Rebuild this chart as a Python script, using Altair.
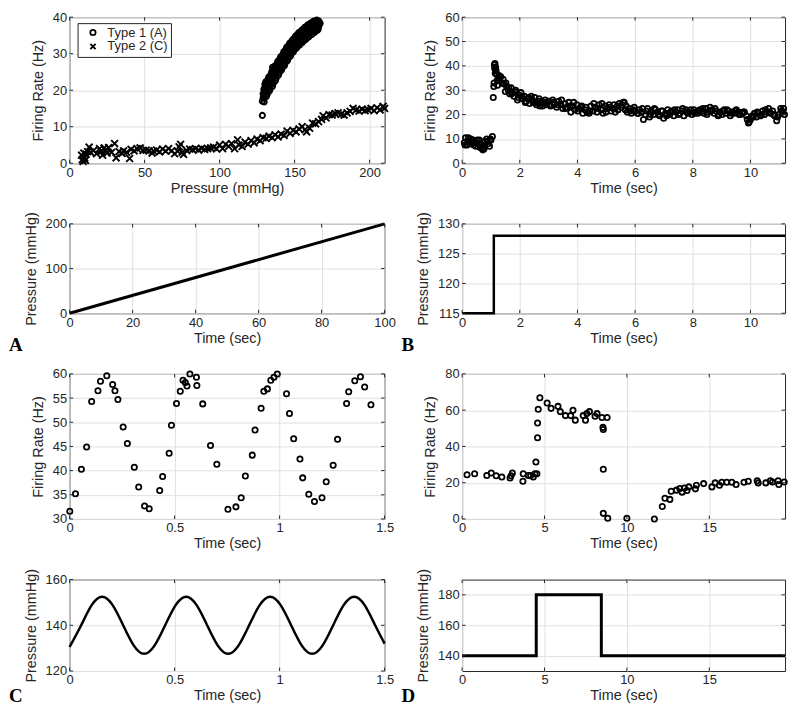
import altair as alt
import pandas as pd

FONT = "Liberation Sans"
TXT = "#262626"
GRID = "#e0e0e0"

# ---------------- Panel A (top): firing rate vs pressure ----------------
type1_pressure = [128.5, 129, 129, 129.5, 129.5, 130, 130, 130.5, 131, 131, 131.5, 132, 132, 132.5,
                  133, 133, 133.5, 134, 134, 134.5, 135, 135, 135.5, 136, 136, 136.5, 137, 137,
                  137.5, 138, 138, 138.5, 139, 139, 139.5, 140, 140, 140.5, 140.5, 141, 141, 141,
                  141.5, 141.5, 142, 142, 142.5, 143, 143, 143.5, 144, 144, 144.5, 145, 145, 145.5,
                  146, 146, 146.5, 147, 147, 147.5, 148, 148, 148.5, 149, 149, 149.5, 150, 150,
                  150.5, 151, 151, 151.5, 152, 152, 152.5, 153, 153, 153.5, 154, 154, 154.5, 155,
                  155, 155.5, 156, 156, 156.5, 157, 157, 157.5, 158, 158, 158.5, 159, 159, 159.5,
                  160, 160, 160.5, 161, 161, 161.5, 162, 162, 162.5, 163, 163, 163.5, 164, 164,
                  164.5, 165, 165, 165.5, 166, 166, 166.5, 128.5, 135.3,
                  130.2, 131.2, 132.2, 133.2, 134.2, 135.2, 136.2, 137.2, 138.2, 139.2, 140.2,
                  141.2, 142.2, 143.2, 144.2, 145.2, 146.2, 147.2, 148.2, 149.2, 150.2, 151.2,
                  152.2, 153.2, 154.2, 155.2, 156.2, 157.2, 158.2, 159.2, 160.2, 161.2, 162.2,
                  163.2, 164.2, 165.2, 166.2, 167,
                  129.7, 130.8, 131.7, 132.8, 133.7, 134.8, 135.7, 136.8, 137.7, 138.8, 139.7,
                  140.8, 141.7, 142.8, 143.7, 144.8, 145.7, 146.8, 147.7, 148.8, 149.7, 150.8,
                  151.7, 152.8, 153.7, 154.8, 155.7, 156.8, 157.7, 158.8, 159.7, 160.8, 161.7,
                  162.8, 163.7, 164.8, 165.7, 140.3, 141.6, 142.4, 141.0, 139.8, 142.9]
type1_rate = [17.0, 19.0, 17.8, 20.2, 18.4, 19.0, 20.6, 19.6, 21.2, 19.9, 20.8, 22.0, 20.5, 21.5,
              22.8, 21.0, 22.2, 23.5, 21.8, 22.9, 24.2, 22.6, 23.8, 25.0, 23.4, 24.4, 25.8, 24.0,
              25.1, 26.4, 24.8, 25.7, 26.9, 25.3, 26.2, 27.6, 25.9, 26.6, 27.9, 26.3, 27.2, 28.0,
              26.9, 27.6, 28.7, 27.3, 28.2, 29.6, 27.9, 28.9, 30.3, 28.6, 29.7, 31.0, 29.2, 30.2,
              31.6, 29.8, 30.7, 32.1, 30.4, 31.3, 32.6, 30.9, 31.8, 33.1, 31.4, 32.3, 33.6, 31.9,
              32.8, 34.0, 32.3, 33.2, 34.4, 32.8, 33.6, 34.9, 33.1, 34.0, 35.2, 33.5, 34.4, 35.7,
              33.9, 34.9, 36.0, 34.2, 35.1, 36.4, 34.6, 35.5, 36.8, 35.0, 35.9, 37.1, 35.3, 36.3,
              37.5, 35.7, 36.6, 37.8, 36.0, 36.9, 38.1, 36.3, 37.2, 38.3, 36.6, 37.4, 38.5, 36.9,
              37.7, 38.6, 37.0, 37.9, 38.4, 37.4, 38.0, 13.1, 26.3,
              21.6, 18.3, 22.9, 19.8, 24.3, 21.0, 25.9, 22.6, 27.2, 24.1, 28.6,
              25.5, 29.8, 26.7, 31.2, 28.1, 32.4, 29.3, 33.5, 30.5, 34.4, 31.5,
              35.3, 32.3, 36.0, 33.1, 36.8, 33.8, 37.5, 34.5, 38.1, 35.2, 38.7,
              35.8, 39.0, 36.4, 38.9, 38.3,
              16.8, 22.3, 18.9, 23.6, 20.4, 25.1, 21.8, 26.6, 23.3, 27.9, 24.7,
              29.2, 26.0, 30.5, 27.4, 31.8, 28.7, 32.9, 29.9, 33.9, 31.0, 34.9,
              31.9, 35.8, 32.7, 36.5, 33.5, 37.2, 34.1, 37.9, 34.8, 38.4, 35.4,
              38.9, 36.1, 39.2, 36.7, 27.0, 26.2, 27.8, 28.4, 27.4, 26.9]

type2_pressure = [8, 8.5, 9, 9.5, 10, 10.5, 11, 12, 13, 14, 16, 18, 20, 21, 22, 23, 24, 25, 26, 28,
                  30, 31, 33, 35, 36, 38, 40, 41, 43, 45, 47, 49, 51, 53, 55, 56, 58, 60, 62, 64,
                  66, 68, 70, 72, 73, 74, 75, 76, 78, 80, 82, 84, 86, 88, 90, 92, 94, 96, 98, 100,
                  102, 104, 106, 108, 110, 112, 113, 115, 117, 119, 121, 123, 125, 127, 129, 131,
                  133, 135, 137, 139, 141, 143, 145, 147, 149, 151, 153, 155, 157, 158, 160, 162,
                  164, 166, 168, 169, 171, 173, 175, 177, 179, 181, 183, 185, 187, 189, 191, 193,
                  195, 197, 199, 201, 203, 205, 207, 209, 210]
type2_rate = [2.2, 1.0, 0.5, 2.8, 1.5, 0.8, 2.5, 3.2, 4.4, 3.0, 3.5, 2.6, 4.0, 3.2, 2.2, 4.2, 3.6,
              2.8, 4.3, 3.0, 5.4, 1.5, 3.2, 2.7, 3.4, 3.0, 1.3, 3.8, 3.4, 4.0, 4.2, 3.5, 3.6, 3.4,
              2.8, 3.3, 3.6, 3.1, 3.9, 3.3, 4.0, 3.4, 2.6, 3.3, 4.5, 5.2, 3.0, 2.4, 3.5, 3.9, 3.7,
              4.0, 3.6, 4.1, 3.8, 4.0, 4.2, 4.4, 3.9, 5.0, 4.0, 5.2, 4.6, 5.4, 4.0, 6.4, 5.0, 4.6,
              5.8, 5.2, 6.2, 5.6, 6.6, 6.2, 7.0, 6.8, 7.4, 7.0, 7.8, 7.2, 8.0, 7.6, 8.8, 8.2, 9.0,
              8.6, 9.4, 10.0, 9.2, 8.6, 9.6, 11.0, 10.8, 11.4, 12.0, 13.0, 12.4, 13.3, 13.2, 13.6,
              13.8, 13.4, 13.2, 13.8, 14.2, 15.0, 14.6, 14.3, 14.8, 14.4, 14.6, 15.0, 14.4, 15.2,
              14.6, 15.6, 15.0]

# ---------------- Panel A (bottom): pressure ramp ----------------
ramp_time = [0, 100]
ramp_pressure = [0, 200]

# ---------------- Panel B (top): firing rate vs time ----------------
b_time = [0.08, 0.12, 0.17, 0.22, 0.27, 0.33, 0.38, 0.43, 0.48, 0.53, 0.58, 0.63, 0.68, 0.72, 0.76,
          0.80, 0.85, 0.90, 0.95, 1.00, 1.05,
          1.08, 1.10, 1.12, 1.14, 1.16, 1.18, 1.20, 1.23, 1.26, 1.30, 1.34, 1.38, 1.42, 1.46, 1.50,
          1.55, 1.60, 1.65, 1.70, 1.75, 1.80, 1.86, 1.92, 1.98, 2.04, 2.10, 2.16, 2.22, 2.28, 2.34,
          2.40, 2.46, 2.52, 2.58, 2.64, 2.70, 2.76, 2.82, 2.88, 2.94, 3.00, 3.07, 3.14, 3.21, 3.28,
          3.35, 3.42, 3.49, 3.56, 3.63, 3.70, 3.77, 3.84, 3.91, 3.98, 4.05, 4.12, 4.19, 4.26, 4.33,
          4.40, 4.47, 4.54, 4.61, 4.68, 4.75, 4.82, 4.89, 4.96, 5.03, 5.10, 5.17, 5.24, 5.31, 5.38,
          5.45, 5.52, 5.59, 5.66, 5.73, 5.80, 5.87, 5.94, 6.01, 6.08, 6.15, 6.22, 6.29, 6.36, 6.43,
          6.50, 6.57, 6.64, 6.71, 6.78, 6.85, 6.92, 6.99, 7.06, 7.13, 7.20, 7.27, 7.34, 7.41, 7.48,
          7.55, 7.62, 7.69, 7.76, 7.83, 7.90, 7.97, 8.04, 8.11, 8.18, 8.25, 8.32, 8.39, 8.46, 8.53,
          8.60, 8.67, 8.74, 8.81, 8.88, 8.95, 9.02, 9.09, 9.16, 9.23, 9.30, 9.37, 9.44, 9.51, 9.58,
          9.65, 9.72, 9.79, 9.86, 9.93, 10.00, 10.07, 10.14, 10.21, 10.28, 10.35, 10.42, 10.49,
          10.56, 10.63, 10.70, 10.77, 10.84, 10.91, 10.98, 11.05, 11.12, 11.18,
          0.10, 0.20, 0.30, 0.40, 0.50, 0.60, 0.70, 0.78, 0.88, 0.98, 1.11, 1.13, 1.15, 1.22, 1.28,
          1.52, 1.62, 1.72, 1.82, 1.95, 2.07, 2.19, 2.31, 2.43, 2.55, 2.67, 2.79, 2.91, 3.03, 3.17,
          3.31, 3.45, 3.59, 3.73, 3.87, 4.01, 4.15, 4.29, 4.43, 4.57, 4.71, 4.85, 4.99, 5.13, 5.27,
          5.41, 5.55, 5.62, 5.69, 5.83, 5.97, 6.11, 6.25, 6.39, 6.53, 6.67, 6.81, 6.95, 7.09, 7.23,
          7.37, 7.51, 7.65, 7.79, 7.93, 8.07, 8.21, 8.35, 8.49, 8.63, 8.77, 8.91, 9.05, 9.19, 9.33,
          9.47, 9.61, 9.75, 9.89, 9.96, 10.10, 10.24, 10.38, 10.52, 10.66, 10.80, 10.94, 11.08,
          11.15]
b_rate = [8.5, 10.5, 7.5, 10.5, 9.0, 8.0, 9.5, 8.5, 7.0, 9.5, 8.0, 6.5, 7.5, 5.5, 6.0, 9.0, 10.0,
          8.0, 7.0, 9.5, 11.0,
          27.0, 31.5, 40.5, 41.0, 39.5, 38.0, 36.5, 32.0, 35.0, 34.0, 35.5, 33.0, 34.5, 32.5, 29.5,
          31.5, 30.0, 28.5, 31.0, 29.0, 27.5, 30.0, 26.0, 28.0, 29.0, 26.5, 27.5, 25.5, 26.5, 24.5,
          27.5, 25.0, 27.0, 24.0, 25.5, 23.5, 25.5, 24.5, 26.0, 24.0, 25.5, 23.5, 26.0, 24.5, 23.0,
          25.5, 24.0, 22.5, 24.5, 23.0, 25.0, 21.0, 23.5, 22.0, 24.0, 22.5, 23.0, 20.5, 22.0, 21.0,
          20.5, 23.5, 21.5, 23.0, 21.0, 24.0, 22.0, 20.5, 23.5, 22.5, 24.0, 21.5, 22.5, 21.0, 23.5,
          24.5, 23.0, 25.0, 22.0, 21.0, 22.5, 20.5, 22.0, 21.5, 20.5, 22.0, 21.0, 18.0, 20.0, 22.5,
          19.0, 21.0, 20.0, 22.0, 21.0, 19.5, 21.5, 18.5, 20.5, 22.0, 20.0, 21.5, 19.5, 21.0, 22.0,
          20.5, 21.5, 19.5, 22.0, 20.5, 21.0, 20.0, 22.0, 21.0, 20.5, 22.0, 21.5, 20.5, 22.5, 21.0,
          23.0, 22.0, 20.5, 21.5, 19.5, 21.0, 20.0, 22.0, 20.5, 21.5, 19.5, 21.0, 20.5, 22.0, 21.0,
          20.0, 20.5, 21.0, 19.5, 16.5, 18.0, 19.5, 20.5, 19.0, 20.5, 19.5, 21.5, 20.0,
          21.0, 22.5, 20.5, 21.5, 19.5, 17.5, 20.0, 22.5, 21.0, 20.0,
          7.5, 9.0, 10.0, 7.5, 8.5, 9.5, 6.0, 7.0, 9.0, 10.0, 33.0, 39.0, 37.0, 34.0, 36.0,
          33.0, 31.0, 28.5, 29.5, 27.0, 27.5, 25.0, 27.0, 26.0, 25.0, 26.5, 23.5, 25.0, 24.0, 25.0,
          24.0, 26.0, 22.5, 23.5, 25.0, 21.5, 23.5, 23.0, 21.5, 24.5, 22.5, 24.5, 21.0, 23.0, 24.0,
          22.0, 24.0, 25.0, 23.5, 21.5, 23.0, 20.5, 22.5, 21.5, 20.0, 22.5, 20.0, 21.5, 19.5, 21.0,
          22.0, 20.0, 22.5, 21.0, 22.0, 20.5, 21.5, 22.5, 20.0, 21.5, 22.5, 20.0, 21.5, 22.0, 20.5,
          21.5, 20.0, 21.0, 18.0, 17.0, 19.0, 21.0, 20.0, 22.0, 21.0, 20.0, 19.0, 21.5,
          22.5]

# ---------------- Panel B (bottom): pressure step ----------------
b_step_time = [0, 1.1, 1.1, 11.2]
b_step_pressure = [115, 115, 128, 128]

# ---------------- Panel C (top): firing rate vs time ----------------
c_time = [0.001, 0.028, 0.056, 0.081, 0.105, 0.135, 0.147, 0.177, 0.205, 0.216, 0.230, 0.255,
          0.275, 0.308, 0.329, 0.357, 0.379, 0.429, 0.443, 0.474, 0.485, 0.509, 0.527, 0.540,
          0.551, 0.559, 0.573, 0.604, 0.606, 0.634, 0.671, 0.701, 0.754, 0.792, 0.817, 0.837,
          0.870, 0.883, 0.912, 0.925, 0.942, 0.958, 0.973, 0.989, 1.033, 1.047, 1.067, 1.097,
          1.110, 1.139, 1.166, 1.202, 1.222, 1.255, 1.276, 1.319, 1.329, 1.358, 1.385, 1.405, 1.435]
c_rate = [31.6, 35.2, 40.3, 44.9, 54.3, 56.5, 58.5, 59.6, 57.8, 56.5, 54.7, 49.0, 45.6, 40.7,
          36.6, 32.7, 32.1, 35.9, 38.8, 43.6, 49.4, 53.9, 56.4, 58.7, 58.2, 57.5, 60.0, 59.3, 57.6,
          53.8, 45.2, 41.3, 32.0, 32.5, 34.4, 38.9, 43.2, 48.4, 52.9, 56.4, 56.9, 58.7, 59.3, 60.0,
          55.9, 51.8, 46.6, 42.4, 38.5, 35.1, 33.6, 34.4, 37.7, 41.1, 46.5, 53.9, 56.3, 58.6, 59.4,
          57.3, 53.6]

# ---------------- Panel C (bottom): sinusoidal pressure ----------------
c_sine_time = [0, 0.055, 0.105, 0.155, 0.205, 0.255, 0.305, 0.355, 0.405, 0.455, 0.505, 0.555,
               0.605, 0.655, 0.705, 0.755, 0.805, 0.855, 0.905, 0.955, 1.005, 1.055, 1.105, 1.155,
               1.205, 1.255, 1.305, 1.355, 1.405, 1.455, 1.5]
c_sine_pressure = [130.5, 140, 148.8, 152.5, 148.8, 140, 131.2, 127.5, 131.2, 140, 148.8, 152.5,
                   148.8, 140, 131.2, 127.5, 131.2, 140, 148.8, 152.5, 148.8, 140, 131.2, 127.5,
                   131.2, 140, 148.8, 152.5, 148.8, 140, 132]

# ---------------- Panel D (top): firing rate vs time ----------------
d_time = [0.3, 0.76, 1.5, 1.77, 2.07, 2.41, 2.91, 2.97, 3.05, 3.71, 3.69, 4.02, 4.16, 4.32, 4.42,
          4.48, 4.54, 4.58, 4.58, 4.62, 4.72, 5.16, 5.4, 5.82, 5.96, 6.27, 6.59, 6.73, 6.87, 7.35,
          7.49, 7.57, 7.73, 8.07, 8.19, 8.49, 8.55, 8.57, 8.8, 8.57, 8.57, 8.84, 10.0, 11.67,
          12.15, 12.31, 12.61, 12.69, 13.01, 13.21, 13.35, 13.49, 13.65, 13.76, 14.16, 14.22,
          14.66, 15.16, 15.36, 15.62, 15.76, 16.06, 16.37, 16.63, 17.11, 17.37, 17.91, 17.97,
          18.43, 18.71, 18.84, 19.18, 19.22, 19.55]
d_rate = [24.4, 24.9, 24.0, 25.3, 23.8, 23.1, 22.6, 23.8, 25.3, 24.9, 20.8, 24.0, 24.0, 23.1,
          24.9, 31.4, 24.9, 44.8, 52.9, 60.5, 66.8, 63.9, 61.0, 62.1, 59.2, 57.0, 57.0, 59.9, 54.5,
          57.0, 54.5, 58.1, 59.2, 56.7, 58.1, 56.0, 50.5, 49.3, 56.0, 27.4, 3.1, 0.4, 0.4, 0.0,
          6.9, 11.4, 10.8, 15.3, 15.9, 16.8, 14.8, 17.1, 15.7, 17.7, 16.6, 18.6, 19.5, 17.7, 19.9,
          18.6, 20.2, 20.2, 20.2, 19.0, 20.2, 20.8, 21.1, 19.9, 19.9, 21.1, 20.4, 21.1, 19.0, 20.4]

# ---------------- Panel D (bottom): pressure pulse ----------------
d_step_time = [0, 4.5, 4.5, 8.45, 8.45, 19.6]
d_step_pressure = [140, 140, 180, 180, 140, 140]

# ---------------- tick values ----------------
a_top_xticks = [0, 50, 100, 150, 200]
a_top_yticks = [0, 10, 20, 30, 40]
a_bot_xticks = [0, 20, 40, 60, 80, 100]
a_bot_yticks = [0, 100, 200]
b_xticks = [0, 2, 4, 6, 8, 10]
b_top_yticks = [0, 10, 20, 30, 40, 50, 60]
b_bot_yticks = [115, 120, 125, 130]
c_xticks = [0, 0.5, 1, 1.5]
c_top_yticks = [30, 35, 40, 45, 50, 55, 60]
c_bot_yticks = [120, 140, 160]
d_xticks = [0, 5, 10, 15]
d_top_yticks = [0, 20, 40, 60, 80]
d_bot_yticks = [140, 160, 180]

# ======================================================================
X_CROSS = "M-1,-1L1,1M1,-1L-1,1"
TICK = 3.5
TYPES = ["Type 1 (A)", "Type 2 (C)"]


def sc(lo, hi):
    return alt.Scale(domain=[lo, hi], nice=False, zero=False)


def ax(vals, title):
    return alt.Axis(values=vals, title=title, format=".1~f")


def letter(txt, off):
    return alt.TitleParams(text=txt, orient="bottom", anchor="start", frame="group",
                           dx=-61, offset=off, baseline="alphabetic", font="Liberation Serif",
                           fontSize=19, fontWeight="bold", color="black")


def panel(main, P, title=None):
    """main layer + MATLAB-style inward tick marks (positions from the shared scales)."""
    xenc = alt.X("x:Q", scale=sc(*P["xdom"]), axis=ax(P["xt"], P["xtitle"]))
    yenc = alt.Y("y:Q", scale=sc(*P["ydom"]), axis=ax(P["yt"], P["ytitle"]))
    xs = pd.DataFrame({"x": P["xt"]})
    ys = pd.DataFrame({"y": P["yt"]})
    w, h = P["w"], P["h"]
    rule = dict(color=TXT, strokeWidth=1)
    layers = [
        main.encode(x=xenc, y=yenc),
        alt.Chart(xs).mark_rule(**rule).encode(x=xenc, y=alt.value(h), y2=alt.value(h - TICK)),
        alt.Chart(xs).mark_rule(**rule).encode(x=xenc, y=alt.value(0), y2=alt.value(TICK)),
        alt.Chart(ys).mark_rule(**rule).encode(y=yenc, x=alt.value(0), x2=alt.value(TICK)),
        alt.Chart(ys).mark_rule(**rule).encode(y=yenc, x=alt.value(w), x2=alt.value(w - TICK)),
    ]
    ch = alt.layer(*layers).properties(width=w, height=h)
    if title is not None:
        ch = ch.properties(title=title)
    return ch


def circles(df):
    return alt.Chart(df).mark_point(shape="circle", filled=False, color="black", size=28,
                                    strokeWidth=1.8, opacity=1)


def pline(df, sw, interp="linear"):
    return alt.Chart(df).mark_line(color="black", strokeWidth=sw, interpolate=interp).encode(
        order=alt.Order("i:Q"))


WL, WR = 317, 325
H1, H2, H3, H4 = 147, 90, 146, 92
FR, PR, TS = "Firing Rate (Hz)", "Pressure (mmHg)", "Time (sec)"

# ----- Panel A top -----
shape_enc = alt.Shape("type:N", scale=alt.Scale(domain=TYPES, range=["circle", X_CROSS]),
                      legend=alt.Legend(title=None, orient="none", legendX=8, legendY=6,
                                        strokeColor=TXT, fillColor="white", padding=3,
                                        labelFont=FONT, labelFontSize=13, labelColor=TXT,
                                        symbolStrokeColor="black", symbolStrokeWidth=1.8,
                                        symbolSize=28, symbolOffset=6, labelOffset=8,
                                        rowPadding=0))
df_t2 = pd.DataFrame({"x": type2_pressure, "y": type2_rate, "type": TYPES[1]})
df_t1 = pd.DataFrame({"x": type1_pressure, "y": type1_rate, "type": TYPES[0]})
P_at = dict(xdom=(0, 210), ydom=(0, 40), xt=a_top_xticks, yt=a_top_yticks,
            xtitle=PR, ytitle=FR, w=WL, h=H1)
xenc_at = alt.X("x:Q", scale=sc(0, 210), axis=ax(a_top_xticks, PR))
yenc_at = alt.Y("y:Q", scale=sc(0, 40), axis=ax(a_top_yticks, FR))
cross_layer = alt.Chart(df_t2).mark_point(filled=False, color="black", size=48, strokeWidth=1.9,
                                          opacity=1).encode(x=xenc_at, y=yenc_at, shape=shape_enc)
a_main = alt.Chart(df_t1).mark_point(filled=False, color="black", size=28, strokeWidth=1.9,
                                     opacity=1).encode(shape=shape_enc)
a_top = alt.layer(cross_layer, panel(a_main, P_at)).properties(width=WL, height=H1)

# ----- Panel A bottom -----
P_ab = dict(xdom=(0, 100), ydom=(0, 200), xt=a_bot_xticks, yt=a_bot_yticks,
            xtitle=TS, ytitle=PR, w=WL, h=H2)
a_bot = panel(pline(pd.DataFrame({"x": ramp_time, "y": ramp_pressure,
                                  "i": range(len(ramp_time))}), 3), P_ab, letter("A", 6))

# ----- Panel B -----
P_bt = dict(xdom=(0, 11.2), ydom=(0, 60), xt=b_xticks, yt=b_top_yticks,
            xtitle=TS, ytitle=FR, w=WR, h=H1)
b_top = panel(circles(pd.DataFrame({"x": b_time, "y": b_rate})), P_bt)
P_bb = dict(xdom=(0, 11.2), ydom=(115, 130), xt=b_xticks, yt=b_bot_yticks,
            xtitle=TS, ytitle=PR, w=WR, h=H2)
b_bot = panel(pline(pd.DataFrame({"x": b_step_time, "y": b_step_pressure,
                                  "i": range(len(b_step_time))}), 2.5), P_bb, letter("B", 6))

# ----- Panel C -----
P_ct = dict(xdom=(0, 1.5), ydom=(30, 60), xt=c_xticks, yt=c_top_yticks,
            xtitle=TS, ytitle=FR, w=WL, h=H3)
c_top = panel(circles(pd.DataFrame({"x": c_time, "y": c_rate})), P_ct)
P_cb = dict(xdom=(0, 1.5), ydom=(120, 160), xt=c_xticks, yt=c_bot_yticks,
            xtitle=TS, ytitle=PR, w=WL, h=H4)
c_bot = panel(pline(pd.DataFrame({"x": c_sine_time, "y": c_sine_pressure,
                                  "i": range(len(c_sine_time))}), 2.5, "natural"),
              P_cb, letter("C", 0))

# ----- Panel D -----
P_dt = dict(xdom=(0, 19.6), ydom=(0, 80), xt=d_xticks, yt=d_top_yticks,
            xtitle=TS, ytitle=FR, w=WR, h=H3)
d_top = panel(circles(pd.DataFrame({"x": d_time, "y": d_rate})), P_dt)
P_db = dict(xdom=(0, 19.6), ydom=(130, 190), xt=d_xticks, yt=d_bot_yticks,
            xtitle=TS, ytitle=PR, w=WR, h=H4)
d_bot = panel(pline(pd.DataFrame({"x": d_step_time, "y": d_step_pressure,
                                  "i": range(len(d_step_time))}), 3), P_db, letter("D", 0))

chart = alt.concat(a_top, b_top, a_bot, b_bot, c_top, d_top, c_bot, d_bot, columns=2,
                   spacing={"row": 61, "column": 78}, bounds="flush", align="each").configure(
    padding={"left": 0, "top": 0, "right": 0, "bottom": 0}, font=FONT, background="white"
).configure_axis(
    labelFont=FONT, labelFontSize=13, labelColor=TXT, titleFont=FONT, titleFontSize=14.5,
    titleFontWeight="normal", titleColor=TXT, gridColor=GRID, gridWidth=1, gridOpacity=1,
    domain=False, ticks=False, labelPadding=3, labelFlush=False, labelOverlap=False,
).configure_axisX(titlePadding=2).configure_axisY(titlePadding=7).configure_view(
    stroke=TXT, strokeWidth=1)

chart.save("out.html", embed_options={"renderer": "svg", "actions": False})
